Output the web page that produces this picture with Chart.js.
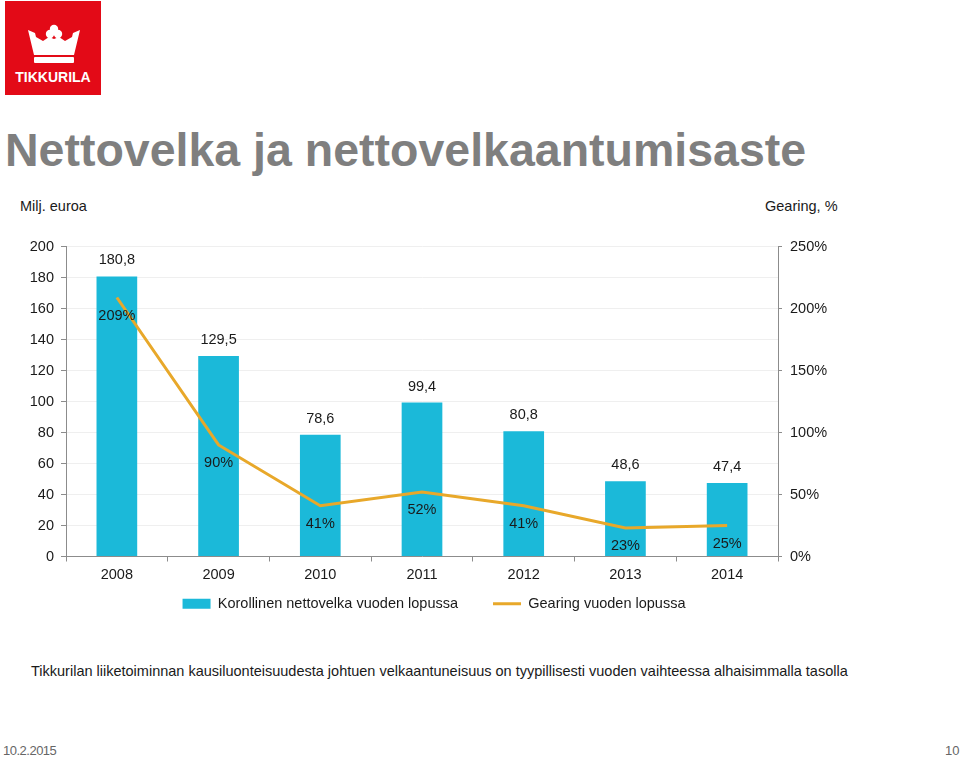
<!DOCTYPE html>
<html>
<head>
<meta charset="utf-8">
<script src="https://cdn.jsdelivr.net/npm/chart.js@4"></script>
<style>
  body { margin: 0; width: 960px; height: 758px; background: #fff; position: relative; overflow: hidden;
         font-family: "Liberation Sans", Arial, sans-serif; color: #1a1a1a; }
  .abs { position: absolute; white-space: nowrap; }
  #title { left: 5px; top: 123px; font-size: 46.5px; font-weight: bold; color: #7f7f7f; }
  #chartBox { position: absolute; left: 0; top: 230px; width: 960px; height: 416px; }
</style>
</head>
<body>
<!-- logo -->
<svg class="abs" style="left:5px;top:1px" width="96" height="94" viewBox="0 0 96 94">
  <rect x="0" y="0" width="96" height="94" fill="#e30a17"/>
  <g fill="#fff">
    <circle cx="49" cy="28" r="4.2"/>
    <circle cx="45" cy="33" r="4.2"/>
    <circle cx="53" cy="33" r="4.2"/>
    <path d="M23 29 L30 32 L31 36 L38 40 L44 36 L49 38 L54 36 L60 40 L67 36 L68 32 L75 29 L69 54 L29 54 Z"/>
    <rect x="29" y="56" width="40" height="6" rx="1"/>
  </g>
  <text x="48" y="81" fill="#fff" font-family="Liberation Sans, Arial, sans-serif" font-weight="bold"
        font-size="14" text-anchor="middle">TIKKURILA</text>
</svg>

<div id="title" class="abs">Nettovelka ja nettovelkaantumisaste</div>
<div class="abs" style="left:20px;top:198px;font-size:14.5px">Milj. euroa</div>
<div class="abs" style="left:765px;top:198px;font-size:14.5px">Gearing, %</div>

<div id="chartBox"><canvas id="chart"></canvas></div>

<div class="abs" style="left:31px;top:663px;font-size:14.5px">Tikkurilan liiketoiminnan kausiluonteisuudesta johtuen velkaantuneisuus on tyypillisesti vuoden vaihteessa alhaisimmalla tasolla</div>
<div class="abs" style="left:3px;top:743px;font-size:13px;color:#666;letter-spacing:-0.5px">10.2.2015</div>
<div class="abs" style="left:945px;top:743px;font-size:13px;color:#666">10</div>

<script>
//Years on the category axis
const years = ["2008", "2009", "2010", "2011", "2012", "2013", "2014"];
//Interest bearing net debt, MEUR
const netDebt = [180.8, 129.5, 78.6, 99.4, 80.8, 48.6, 47.4];
//Gearing, %
const gearing = [209, 90, 41, 52, 41, 23, 25];
//Axis settings
const debtMax = 200;
const debtStep = 20;
const gearingMax = 250;
const gearingStep = 50;

const barColor = "#1bb9d9";
const lineColor = "#e8a82a";
const fontFamily = "'Liberation Sans', Arial, sans-serif";
const fontSize = 14.5;

//Draw value labels next to the marks
const valueLabels = {
  id: "valueLabels",
  afterDatasetsDraw(chart) {
    const ctx = chart.ctx;
    ctx.save();
    ctx.font = fontSize + "px " + fontFamily;
    ctx.fillStyle = "#1a1a1a";
    ctx.textAlign = "center";
    ctx.textBaseline = "middle";
    chart.getDatasetMeta(0).data.forEach((bar, i) => {
      ctx.fillText(netDebt[i].toFixed(1).replace(".", ","), bar.x, bar.y - 16);
    });
    chart.getDatasetMeta(1).data.forEach((pt, i) => {
      ctx.fillText(gearing[i] + "%", pt.x, pt.y + 18);
    });
    ctx.restore();
  },
};

//Legend sits a bit left of centre and close under the axis in the original slide
const legendShift = {
  id: "legendShift",
  afterLayout(chart) {
    chart.legend.left -= 46;
    chart.legend.right -= 46;
    chart.legend.top -= 25;
    chart.legend.bottom -= 25;
  },
};

const ctx = document.getElementById("chart").getContext("2d");
const chart = new Chart(ctx, {
  type: "bar",
  data: {
    labels: years,
    datasets: [
      {
        label: "Korollinen nettovelka vuoden lopussa",
        data: netDebt,
        backgroundColor: barColor,
        borderWidth: 0,
        barPercentage: 0.4,
        categoryPercentage: 1,
        yAxisID: "y",
        order: 1,
      },
      {
        label: "Gearing vuoden lopussa",
        type: "line",
        data: gearing,
        borderColor: lineColor,
        backgroundColor: lineColor,
        borderWidth: 3,
        pointRadius: 0,
        tension: 0,
        yAxisID: "y1",
        order: 0,
      },
    ],
  },
  options: {
    responsive: true,
    maintainAspectRatio: false,
    animation: false,
    layout: { padding: { top: 16, left: 0, right: 0, bottom: 0 } },
    plugins: {
      tooltip: { enabled: false },
      legend: {
        position: "bottom",
        labels: {
          usePointStyle: true,
          pointStyleWidth: 28,
          boxHeight: 10,
          padding: 35,
          color: "#1a1a1a",
          font: { family: fontFamily, size: fontSize },
          sort: (a, b) => a.datasetIndex - b.datasetIndex,
          generateLabels: (c) =>
            Chart.defaults.plugins.legend.labels.generateLabels(c).map((l) => {
              l.pointStyle = l.datasetIndex === 0 ? "rect" : "line";
              return l;
            }),
        },
      },
    },
    scales: {
      x: {
        offset: true,
        grid: {
          offset: true,
          drawOnChartArea: false,
          tickLength: 5,
          color: "#8c8c8c",
        },
        border: { color: "#8c8c8c" },
        ticks: { color: "#1a1a1a", padding: 5, font: { family: fontFamily, size: fontSize } },
        afterFit: (s) => { s.height = 30; },
      },
      y: {
        position: "left",
        min: 0,
        max: debtMax,
        ticks: { stepSize: debtStep, color: "#1a1a1a", padding: 7, font: { family: fontFamily, size: fontSize } },
        grid: { color: "#efefef", tickColor: "#8c8c8c", tickLength: 5 },
        border: { color: "#8c8c8c" },
        afterFit: (s) => { s.width = 66; },
      },
      y1: {
        position: "right",
        min: 0,
        max: gearingMax,
        ticks: {
          stepSize: gearingStep,
          color: "#1a1a1a",
          padding: 8,
          font: { family: fontFamily, size: fontSize },
          callback: (v) => v + "%",
        },
        grid: { drawOnChartArea: false, color: "#8c8c8c", tickLength: 4 },
        border: { color: "#8c8c8c" },
        afterFit: (s) => { s.width = 182; },
      },
    },
  },
  plugins: [valueLabels, legendShift],
});
</script>
</body>
</html>
